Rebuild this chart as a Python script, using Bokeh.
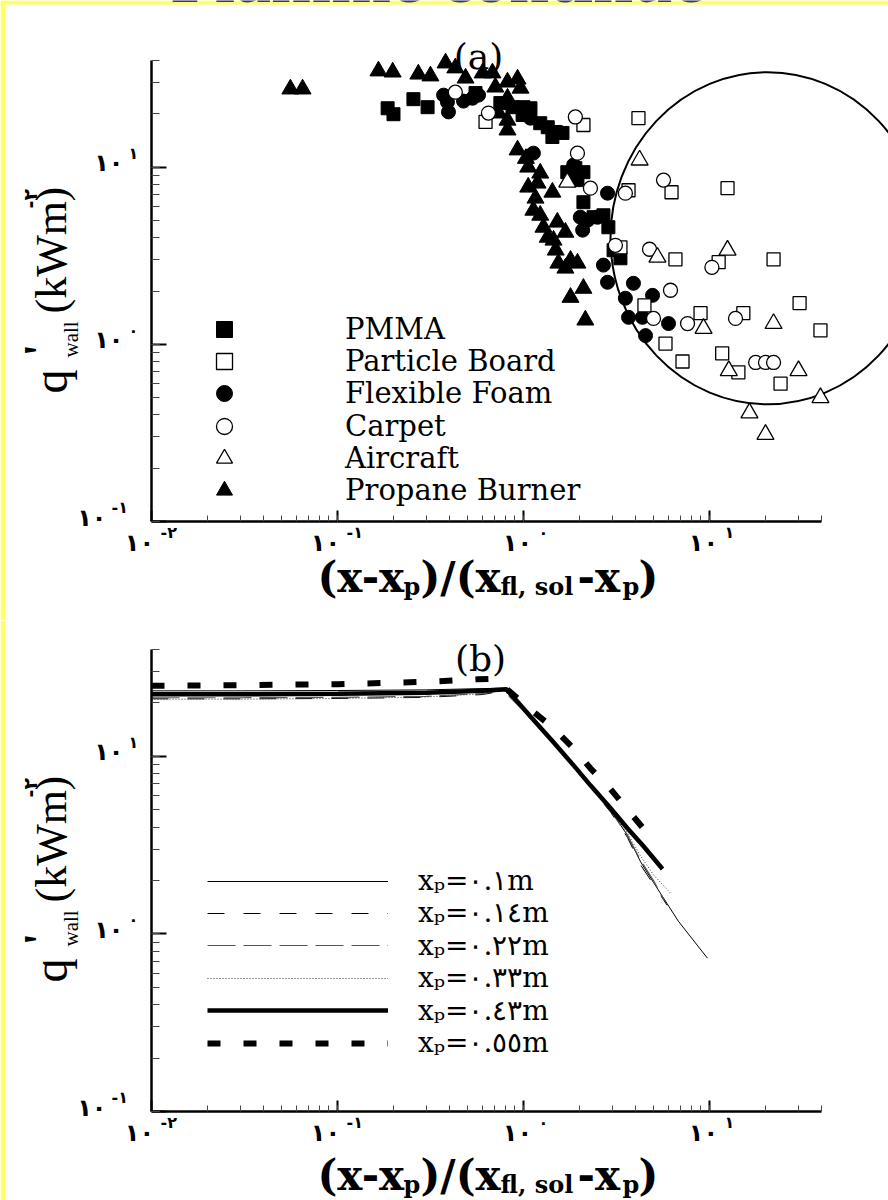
from bokeh.plotting import figure
from bokeh.models import Range1d, Label, Legend, LegendItem, BoxAnnotation, CustomJSTickFormatter
from bokeh.layouts import column
from bokeh.embed import file_html
from bokeh.resources import INLINE
import math

# ---------------- panel (a) data ----------------
propane_x = [0.0558, 0.0649, 0.166, 0.198, 0.272, 0.316, 0.381, 0.430, 0.488, 0.603, 0.681, 0.706,
             0.820, 0.929, 0.820, 0.735, 0.820, 0.820, 0.929, 1.03, 1.06, 1.23, 1.06, 1.19, 1.43,
             1.16, 1.13, 1.23, 1.28, 1.52, 1.68, 1.35, 1.45, 1.49, 1.54, 1.79, 1.68, 1.95, 1.79,
             2.10, 2.15, 0.964]
propane_y = [27.6, 27.6, 34.9, 34.4, 33.5, 32.7, 38.7, 36.3, 31.8, 34.0, 34.0, 28.3, 30.2, 31.4,
             24.5, 20.2, 18.4, 16.2, 12.5, 11.2, 10.0, 9.25, 7.71, 8.12, 7.22, 6.68, 5.71, 5.35,
             4.58, 4.89, 4.29, 4.02, 3.87, 3.40, 2.87, 2.98, 2.69, 2.87, 1.84, 2.07, 1.37, 27.9]
pmma_x = [0.186, 0.200, 0.256, 0.305, 0.552, 0.751, 0.873, 1.0, 1.09, 0.989, 1.23, 1.35, 1.49,
          1.43, 1.62, 1.72, 1.90, 2.10, 1.95, 2.10, 2.38, 2.69, 2.86, 3.05, 3.32]
pmma_y = [21.5, 19.9, 24.2, 21.8, 26.2, 23.0, 21.8, 21.8, 21.5, 19.7, 17.7, 16.8, 15.8, 14.8,
          15.6, 9.37, 9.87, 9.37, 8.45, 6.34, 5.22, 5.35, 4.58, 3.40, 3.06]
board_x = [0.625, 2.10, 4.15, 3.67, 6.25, 12.5, 3.32, 6.56, 11.2, 22.1, 30.5, 4.47, 8.95, 15.2,
           39.5, 5.80, 7.16, 11.7, 14.3, 24.1]
board_y = [18.0, 17.3, 18.9, 7.41, 7.22, 7.61, 3.53, 3.02, 2.91, 3.02, 1.71, 1.66, 1.50, 1.50,
           1.20, 1.01, 0.80, 0.89, 0.695, 0.60]
foam_x = [0.372, 0.390, 0.395, 0.532, 0.573, 0.476, 1.09, 1.13, 1.86, 2.02, 2.21, 2.50, 2.08,
          2.83, 2.69, 2.83, 3.90, 3.53, 4.94, 3.67, 4.36, 6.02, 4.53]
foam_y = [25.5, 23.3, 20.5, 24.5, 25.5, 23.6, 18.9, 12.0, 10.3, 5.22, 5.02, 5.22, 4.41, 7.13,
          2.80, 2.24, 2.21, 1.82, 1.89, 1.42, 1.42, 1.31, 1.12]
carpet_x = [0.430, 0.648, 1.90, 1.95, 2.29, 3.53, 5.66, 3.12, 4.76, 10.3, 6.17, 5.0, 7.62, 13.8,
            17.7, 20.0, 22.1]
carpet_y = [26.5, 20.2, 19.2, 12.0, 7.61, 7.13, 8.45, 3.62, 3.44, 2.72, 2.02, 1.40, 1.31, 1.40,
            0.79, 0.79, 0.79]
aircraft_x = [4.21, 1.72, 5.25, 12.5, 9.29, 22.1, 12.7, 30.1, 39.5, 16.4, 20.0]
aircraft_y = [10.96, 8.23, 3.10, 3.40, 1.23, 1.31, 0.71, 0.71, 0.50, 0.41, 0.31]

series_a_names = ["PMMA", "Particle Board", "Flexible Foam", "Carpet", "Aircraft", "Propane Burner"]

# highlighted region (circle) in panel (a)
highlight_x = [20.5]
highlight_y = [3.97]

# ---------------- panel (b) data ----------------
x_010 = [0.01, 0.03, 0.1, 0.3, 0.6, 0.78, 1.09, 1.45, 1.86, 2.29, 2.94, 3.62, 4.26, 5.0, 5.92, 6.8, 9.75]
y_010 = [23.4, 23.4, 23.5, 23.7, 24.1, 24.2, 16.6, 11.9, 8.8, 6.8, 4.95, 3.6, 2.55, 1.95, 1.48, 1.18, 0.73]
x_014 = [0.01, 0.03, 0.1, 0.3, 0.6, 0.78, 1.09, 1.45, 1.86, 2.29, 2.94, 3.62, 4.26, 5.0, 5.92]
y_014 = [21.1, 21.1, 21.2, 21.5, 22.3, 23.4, 16.5, 11.8, 8.7, 6.7, 4.85, 3.5, 2.45, 1.9, 1.45]
x_022 = [0.01, 0.03, 0.1, 0.3, 0.6, 0.78, 1.09, 1.45, 1.86, 2.29, 2.94, 3.62, 4.26, 5.0, 5.7]
y_022 = [21.4, 21.4, 21.5, 21.8, 22.6, 23.6, 16.6, 11.9, 8.8, 6.8, 4.95, 3.6, 2.6, 2.0, 1.55]
x_033 = [0.01, 0.03, 0.1, 0.3, 0.6, 0.78, 1.09, 1.45, 1.86, 2.29, 2.94, 3.62, 4.26, 5.0, 6.17]
y_033 = [21.0, 21.0, 21.2, 21.6, 22.5, 23.7, 16.7, 12.0, 8.9, 6.9, 5.05, 3.7, 2.75, 2.15, 1.7]
x_043 = [0.01, 0.03, 0.1, 0.3, 0.6, 0.81, 1.09, 1.45, 1.86, 2.29, 2.94, 3.62, 4.42, 5.59]
y_043 = [22.4, 22.4, 22.5, 22.8, 23.4, 23.9, 16.8, 12.0, 8.9, 6.87, 5.10, 3.94, 3.12, 2.32]
x_055 = [0.01, 0.03, 0.1, 0.3, 0.57, 0.70, 1.09, 1.45, 1.86, 2.29, 2.94, 3.62, 4.53]
y_055 = [25.0, 25.2, 25.5, 26.3, 27.2, 27.4, 18.4, 14.4, 11.1, 8.57, 6.53, 5.04, 3.79]

series_b_names = ["xₚ=٠.١m", "xₚ=٠.١٤m", "xₚ=٠.٢٢m", "xₚ=٠.٣٣m", "xₚ=٠.٤٣m", "xₚ=٠.٥٥m"]

# tick labels (Arabic-Indic digits): (value, exponent text)
x_tick_labels = [(0.01, "-٢"), (0.1, "-١"), (1.0, "٠"), (10.0, "١")]
y_tick_labels = [(0.1, "-١"), (1.0, "٠"), (10.0, "١")]
tick_base = "١٠"

title_text = "Flamme continue"

# ---------------- layout constants ----------------
W = 888
AX_LEFT = 151            # canvas x of the y axis
DEC_X = 186.0            # pixels per decade along x
XMIN, XAXIS_END = 0.01, 40.0
YMIN, YMAX = 0.1, 40.0
YELLOW = "#FFFF66"
SERIF = "DejaVu Serif"
TIMES = "Liberation Serif"
ARAB = "DejaVu Sans"
# empirical shift of the alphabetic baseline per font (fraction of font size)
BASE_K = {SERIF: 0.23, TIMES: 0.40, ARAB: 0.23}


class Fig:
    def __init__(self, top0, height, ax_top, ax_bottom):
        # ax_top / ax_bottom in page pixels; frame covers the whole canvas
        self.top0, self.h = top0, height
        at, ab = ax_top - top0, ax_bottom - top0
        dec_y = (ab - at) / math.log10(YMAX / YMIN)
        x0 = 10 ** (math.log10(XMIN) - AX_LEFT / DEC_X)
        x1 = 10 ** (math.log10(XMIN) + (W - AX_LEFT) / DEC_X)
        y0 = 10 ** (math.log10(YMIN) - (height - ab) / dec_y)
        y1 = 10 ** (math.log10(YMIN) + ab / dec_y)
        p = figure(width=W, height=height, x_axis_type="log", y_axis_type="log",
                   x_range=Range1d(x0, x1), y_range=Range1d(y0, y1),
                   output_backend="svg", toolbar_location=None,
                   min_border=0, min_border_left=0, min_border_right=0,
                   min_border_top=0, min_border_bottom=0)
        p.grid.visible = False
        p.outline_line_color = None
        p.background_fill_color = "white"
        p.border_fill_color = "white"
        p.xaxis.fixed_location = YMIN
        p.yaxis.fixed_location = XMIN
        p.xaxis.bounds = (XMIN, XAXIS_END)
        p.yaxis.bounds = (YMIN, YMAX)
        for ax in (p.xaxis[0], p.yaxis[0]):
            ax.axis_line_width = 2.5
            ax.axis_line_color = "black"
            ax.major_tick_out = 0
            ax.minor_tick_out = 0
            ax.major_tick_line_width = 2
            ax.major_tick_line_color = "black"
            ax.minor_tick_line_width = 1
            ax.minor_tick_line_color = "#444444"
            ax.formatter = CustomJSTickFormatter(code="return ''")
            ax.ticker.num_minor_ticks = 10
        p.xaxis.major_tick_in = 11
        p.xaxis.minor_tick_in = 6
        p.yaxis.major_tick_in = 15
        p.yaxis.minor_tick_in = 8
        self.p = p

    def text(self, px, py, text, size, font=SERIF, style="normal", align="left",
             angle=0.0, color="black"):
        """Place text whose alphabetic baseline starts at page pixel (px, py)."""
        k = BASE_K[font] * size
        if angle:
            px -= k
        else:
            py -= k
        cy = py - self.top0
        self.p.add_layout(Label(x=px, y=self.h - cy, x_units="screen", y_units="screen",
                                text=text, text_font=font, text_font_size=f"{size}px",
                                text_font_style=style, text_align=align,
                                text_baseline="alphabetic", angle=angle, text_color=color))

    def legend_rows(self, names, renderers, left, first_c, pitch, gw, gh, standoff, size):
        # one single-item legend per row so that rows can sit closer than the glyph box
        for i, (n, r) in enumerate(zip(names, renderers)):
            c = first_c + i * pitch - self.top0
            self.p.add_layout(Legend(
                items=[LegendItem(label=n, renderers=[r])],
                location=(left, self.h - (c + gh / 2.0)), orientation="vertical",
                glyph_width=gw, glyph_height=gh, label_height=gh, label_standoff=standoff,
                padding=0, margin=0, spacing=0, label_text_font=SERIF,
                label_text_font_size=f"{size}px", label_text_color="black",
                background_fill_alpha=0, border_line_alpha=0))

    def yellow(self, top_band):
        self.p.add_layout(BoxAnnotation(left=0, right=5, top=0, bottom=self.h,
                                        left_units="canvas", right_units="canvas",
                                        top_units="canvas", bottom_units="canvas",
                                        fill_color=YELLOW, fill_alpha=1.0, line_alpha=0))
        if top_band:
            self.p.add_layout(BoxAnnotation(left=0, right=W, top=0, bottom=4,
                                            left_units="canvas", right_units="canvas",
                                            top_units="canvas", bottom_units="canvas",
                                            fill_color=YELLOW, fill_alpha=1.0, line_alpha=0))

    def ticks(self):
        p = self.p
        for v, e in x_tick_labels:
            dxm = -12 if e.startswith("-") else -6
            p.add_layout(Label(x=v, y=YMIN, text=tick_base, x_offset=dxm, y_offset=-21,
                               text_align="center", text_baseline="middle", text_font=ARAB,
                               text_font_size="24px", text_font_style="bold",
                               text_color="black"))
            p.add_layout(Label(x=v, y=YMIN, text=e, x_offset=dxm + 21, y_offset=-11,
                               text_align="left", text_baseline="middle", text_font=ARAB,
                               text_font_size="16px", text_font_style="bold",
                               text_color="black"))
        for v, e in y_tick_labels:
            neg = e.startswith("-")
            p.add_layout(Label(x=XMIN, y=v, text=tick_base, x_offset=-45 if neg else -28,
                               y_offset=4, text_align="right", text_baseline="middle",
                               text_font=ARAB, text_font_size="24px", text_font_style="bold",
                               text_color="black"))
            p.add_layout(Label(x=XMIN, y=v, text=e, x_offset=-40 if neg else -23, y_offset=14,
                               text_align="left", text_baseline="middle", text_font=ARAB,
                               text_font_size="16px", text_font_style="bold",
                               text_color="black"))

    def axis_titles(self, xbase, ytop):
        # x label: (x-x_p)/(x_fl, sol-x_p)
        t = self.text
        t(317, xbase, "(x-x", 42, style="bold")
        t(403, xbase + 5, "p", 24, style="bold")
        t(420, xbase, ")/(x", 42, style="bold")
        t(500, xbase + 5, "fl, sol", 24, style="bold")
        t(577, xbase, "-x", 42, style="bold")
        t(622, xbase + 5, "p", 24, style="bold")
        t(638, xbase, ")", 42, style="bold")
        # y label (rotated): q'_wall (kWm^-2); ytop = page y of the axis top
        a = math.pi / 2
        d = ytop - 60
        t(69, 393 + d, "q", 48, font=TIMES, angle=a)
        t(58, 356 + d, "'", 46, font=TIMES, style="bold", angle=a)
        t(79, 357 + d, "wall", 21, font=TIMES, angle=a)
        t(69, 313 + d, "(kWm", 44, font=TIMES, angle=a)
        t(34, 208 + d, "-٢", 19, font=ARAB, style="bold", angle=a)
        t(69, 201 + d, ")", 44, font=TIMES, angle=a)


# ================= panel (a) =================
A = Fig(0, 620, 60, 521)
p1 = A.p
A.yellow(True)
A.text(437.5, 6, title_text, 72, font=TIMES, style="bold", align="center", color="#333399")

p1.ellipse(x=highlight_x, y=highlight_y, width=314, height=332, width_units="screen",
           height_units="screen", fill_color=None, line_color="black", line_width=2)

r_prop = p1.scatter(propane_x, propane_y, marker="triangle", size=17, color="black")
r_foam = p1.scatter(foam_x, foam_y, marker="circle", size=14, color="black")
r_pmma = p1.scatter(pmma_x, pmma_y, marker="square", size=13, color="black")
r_board = p1.scatter(board_x, board_y, marker="square", size=13, fill_color="white",
                     line_color="black", line_width=1.3)
r_carp = p1.scatter(carpet_x, carpet_y, marker="circle", size=14, fill_color="white",
                    line_color="black", line_width=1.3)
r_air = p1.scatter(aircraft_x, aircraft_y, marker="triangle", size=17, fill_color="white",
                   line_color="black", line_width=1.3)

A.legend_rows(series_a_names, [r_pmma, r_board, r_foam, r_carp, r_air, r_prop],
              left=204, first_c=329, pitch=32.2, gw=40, gh=40, standoff=101, size=29)

A.text(478, 64, "(a)", 36, align="center")
A.ticks()
A.axis_titles(587, 60)

# ================= panel (b) =================
B = Fig(620, 580, 649, 1111)
p2 = B.p
B.yellow(False)

styles = [
    (x_010, y_010, "black", 1.0, "solid"),
    (x_014, y_014, "black", 1.0, "17 19"),
    (x_022, y_022, "#555555", 1.2, "28 8"),
    (x_033, y_033, "#333333", 1.0, "1 2"),
    (x_043, y_043, "black", 4.5, "solid"),
    (x_055, y_055, "black", 6.0, "13 23"),
]
rb = []
for xs, ys, col, lw, dash in styles:
    rb.append(p2.line(xs, ys, line_color=col, line_width=lw, line_dash=dash))

B.legend_rows(series_b_names, rb, left=207, first_c=881, pitch=32.4, gw=181, gh=32,
              standoff=30, size=28)

B.text(480, 666, "(b)", 36, align="center")
B.ticks()
B.axis_titles(1185, 649)

layout = column(p1, p2, spacing=0)
open("out.html", "w").write(file_html(layout, INLINE))
